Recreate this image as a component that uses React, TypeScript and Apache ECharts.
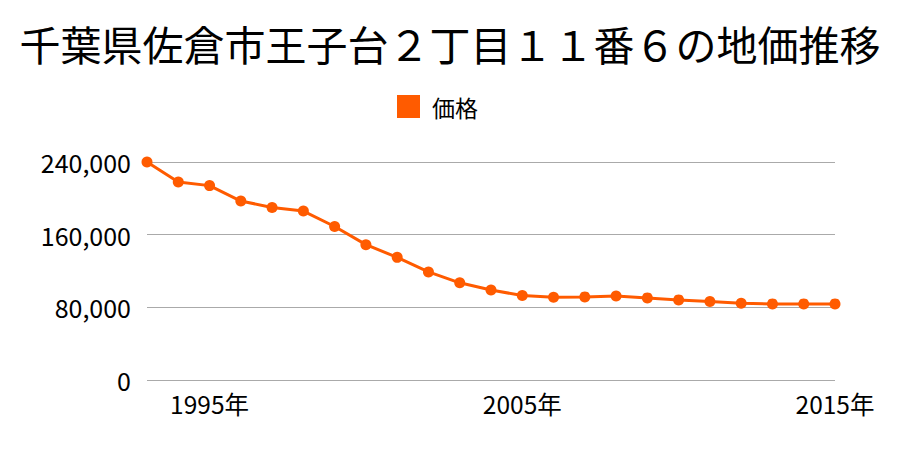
import React, { useEffect, useRef } from "react";
import * as echarts from "echarts";

const years = [
  "1993", "1994", "1995", "1996", "1997", "1998", "1999", "2000", "2001", "2002", "2003", "2004",
  "2005", "2006", "2007", "2008", "2009", "2010", "2011", "2012", "2013", "2014", "2015",
];
const prices = [
  240000, 218000, 214000, 197000, 190000, 186000, 169000, 149000, 135000, 119000, 107000, 99000,
  93000, 91000, 91500, 92500, 90400, 88200, 86400, 84500, 83800, 83800, 83800,
];
const shownYears = ["1995", "2005", "2015"];
const titleText = "千葉県佐倉市王子台２丁目１１番６の地価推移";
const seriesName = "価格";

const FONT = "'Noto Sans CJK JP', 'Noto Sans', sans-serif";

export default function App() {
  const ref = useRef<HTMLDivElement>(null);
  useEffect(() => {
    if (!ref.current) return;
    const chart = echarts.init(ref.current, undefined, { renderer: "svg" });
    chart.setOption({
      animation: false,
      textStyle: { fontFamily: FONT },
      title: {
        text: titleText,
        left: "center",
        top: 17,
        textStyle: { fontSize: 41, fontWeight: "normal", color: "#000", fontFamily: FONT },
      },
      legend: {
        top: 90,
        left: 392,
        itemWidth: 23,
        itemHeight: 23,
        itemGap: 10,
        icon: "rect",
        data: [seriesName],
        textStyle: { fontSize: 23, color: "#000", fontFamily: FONT, padding: [0, 0, 0, 7] },
      },
      grid: { left: 147, right: 65, top: 162, bottom: 70, containLabel: false },
      xAxis: {
        type: "category",
        data: years,
        boundaryGap: false,
        axisLine: { show: false },
        axisTick: { show: false },
        axisLabel: {
          interval: (_i: number, v: string) => shownYears.includes(v),
          formatter: (v: string) => v + "年",
          fontSize: 24.5,
          color: "#000",
          margin: 11,
          fontFamily: FONT,
        },
        splitLine: { show: false },
      },
      yAxis: {
        type: "value",
        min: 0,
        max: 240000,
        interval: 80000,
        axisLine: { show: false },
        axisTick: { show: false },
        axisLabel: {
          fontSize: 25,
          color: "#000",
          margin: 16,
          fontFamily: FONT,
          formatter: (v: number) => v.toLocaleString("en-US"),
        },
        splitLine: { lineStyle: { color: "#aaaaaa", width: 1 } },
      },
      series: [
        {
          name: seriesName,
          type: "line",
          data: prices,
          symbol: "circle",
          symbolSize: 11,
          itemStyle: { color: "#ff5b00" },
          lineStyle: { color: "#ff5b00", width: 3 },
        },
      ],
    });
    return () => chart.dispose();
  }, []);
  return <div ref={ref} style={{ width: 900, height: 450, margin: -8 }} />;
}
